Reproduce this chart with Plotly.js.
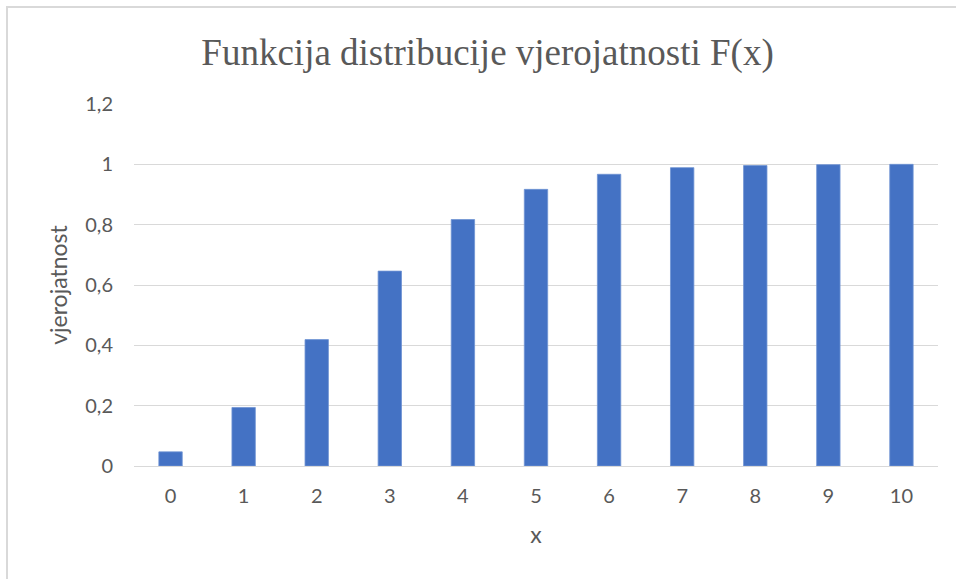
<!DOCTYPE html>
<html>
<head>
<meta charset="utf-8">
<script src="https://cdn.plot.ly/plotly-3.0.1.min.js"></script>
<style>
  html, body { margin: 0; padding: 0; background: #fff; }
  #wrap { position: relative; width: 956px; height: 579px; }
  #chart { width: 956px; height: 579px; }
  #frame { position: absolute; left: 6px; top: 6px; width: 960px; height: 600px;
           border-left: 2px solid #d9d9d9; border-top: 2px solid #d9d9d9; pointer-events: none; }
</style>
</head>
<body>
<div id="wrap">
  <div id="chart"></div>
  <div id="frame"></div>
</div>
<script>
const categories = ["0", "1", "2", "3", "4", "5", "6", "7", "8", "9", "10"];
const probabilities = [0.047, 0.194, 0.419, 0.646, 0.817, 0.917, 0.967, 0.989, 0.996, 0.999, 1.0];
const yTickValues = [0, 0.2, 0.4, 0.6, 0.8, 1, 1.2];

const trace = {
  type: "bar",
  x: categories,
  y: probabilities,
  marker: { color: "#4472C4", line: { color: "#6F93D3", width: 0.8 } },
  hoverinfo: "x+y"
};

const font = "Lato, 'Open Sans', sans-serif";

const layout = {
  width: 956,
  height: 579,
  separators: ",.",
  paper_bgcolor: "#ffffff",
  plot_bgcolor: "#ffffff",
  margin: { l: 134, r: 18, t: 104, b: 113 },
  bargap: 0.68,
  showlegend: false,
  font: { family: font, size: 20, color: "#595959" },
  title: {
    text: "Funkcija distribucije vjerojatnosti F(x)",
    font: { family: "'Liberation Serif', 'Times New Roman', serif", size: 37, color: "#595959" },
    x: 0.51, xanchor: "center",
    y: 0.91, yanchor: "middle"
  },
  xaxis: {
    type: "category",
    showgrid: false,
    showline: false,
    zeroline: false,
    ticks: "",
    ticklabelstandoff: 16,
    tickfont: { family: font, size: 20, color: "#595959" },
    title: { text: "x", font: { family: font, size: 23, color: "#595959" }, standoff: 20 }
  },
  yaxis: {
    range: [0, 1.2],
    tickvals: yTickValues,
    showgrid: true,
    gridcolor: "#d9d9d9",
    gridwidth: 1.3,
    zeroline: true,
    zerolinecolor: "#d9d9d9",
    zerolinewidth: 1.3,
    showline: false,
    ticks: "",
    ticklabelstandoff: 20,
    tickfont: { family: font, size: 20, color: "#595959" },
    title: { text: "vjerojatnost", font: { family: font, size: 23, color: "#595959" }, standoff: 11 }
  }
};

Plotly.newPlot("chart", [trace], layout, { displayModeBar: false });
</script>
</body>
</html>
